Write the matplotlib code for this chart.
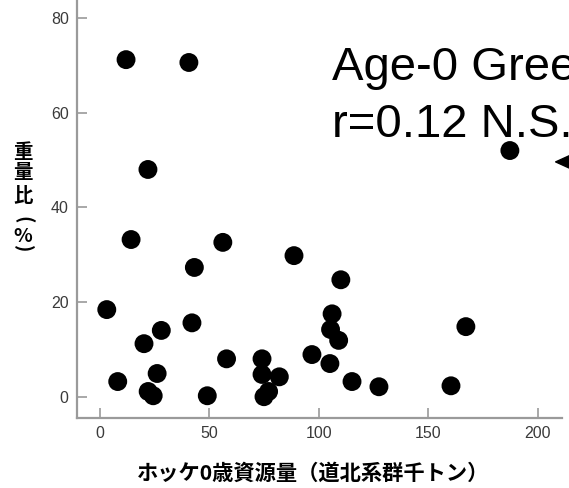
import matplotlib
matplotlib.use('Agg')
import matplotlib.pyplot as plt

# ホッケ0歳資源量 (thousand t) vs 重量比 (%)
stock = [11.9, 40.6, 21.9, 14.2, 56.1, 88.6, 43.1, 3.1, 42.0, 28.0, 20.1,
         57.8, 74.0, 8.1, 26.1, 74.0, 81.9, 22.0, 24.3, 49.0, 77.0, 74.9,
         110.0, 106.0, 105.3, 109.0, 96.8, 105.0, 115.1, 127.4, 160.3, 167.1,
         187.2]
ratio = [71.2, 70.6, 48.0, 33.2, 32.6, 29.8, 27.3, 18.4, 15.6, 14.0, 11.2,
         8.0, 8.0, 3.2, 4.9, 4.7, 4.2, 1.1, 0.2, 0.2, 1.1, 0.0,
         24.7, 17.5, 14.2, 11.9, 8.9, 7.0, 3.2, 2.1, 2.3, 14.8,
         52.0]
xticks = [0, 50, 100, 150, 200]
yticks = [0, 20, 40, 60, 80]

cjk = ['Noto Sans CJK JP', 'DejaVu Sans']
latin = ['Liberation Sans', 'DejaVu Sans']

fig = plt.figure(figsize=(5.69, 4.88), dpi=100)
ax = fig.add_axes([77 / 569, 70 / 488, (562 - 77) / 569, 418 / 488])

ax.scatter(stock, ratio, s=185, color='black', edgecolors='none', zorder=3)

ax.set_xlim(-10.5, 211)
ax.set_ylim(-4.5, 83.8)
ax.set_xticks(xticks)
ax.set_yticks(yticks)
for side in ['top', 'right']:
    ax.spines[side].set_visible(False)
for side in ['left', 'bottom']:
    ax.spines[side].set_color('#9a9a9a')
    ax.spines[side].set_linewidth(1.6)
ax.tick_params(direction='in', length=7, width=1.2, color='#9a9a9a',
               labelsize=11.5, labelcolor='#3a3a3a', pad=6)
for lab in ax.get_xticklabels() + ax.get_yticklabels():
    lab.set_family(latin)

fig.text(313 / 569, 1 - 473 / 488, 'ホッケ0歳資源量（道北系群千トン）',
         family=cjk, fontsize=15.3, fontweight='bold', ha='center', va='center')

# vertical y label, one glyph at a time (parentheses turned like ︵ ︶)
ylab_chars = ['重', '量', '比', '(', '%', ')']
ylab_pos = [153, 172, 196, 220, 236, 249]
ylab_rot = [0, 0, 0, -90, 0, -90]
for ch, py, rot in zip(ylab_chars, ylab_pos, ylab_rot):
    fig.text(23 / 569, 1 - py / 488, ch, family=cjk, fontsize=14,
             fontweight='bold', ha='center', va='center', rotation=rot)

fig.text(332 / 569, 1 - 80 / 488, 'Age-0 Greenling', family=latin,
         fontsize=34, va='baseline', ha='left')
fig.text(332 / 569, 1 - 137 / 488, 'r=0.12 N.S.', family=latin,
         fontsize=34, va='baseline', ha='left')

ax.annotate('', xy=(208.1, 49.6), xytext=(260, 49.6),
            arrowprops=dict(facecolor='black', edgecolor='black',
                            width=1.5, headwidth=10, headlength=11),
            annotation_clip=False)

fig.savefig('out.png', dpi=100)
